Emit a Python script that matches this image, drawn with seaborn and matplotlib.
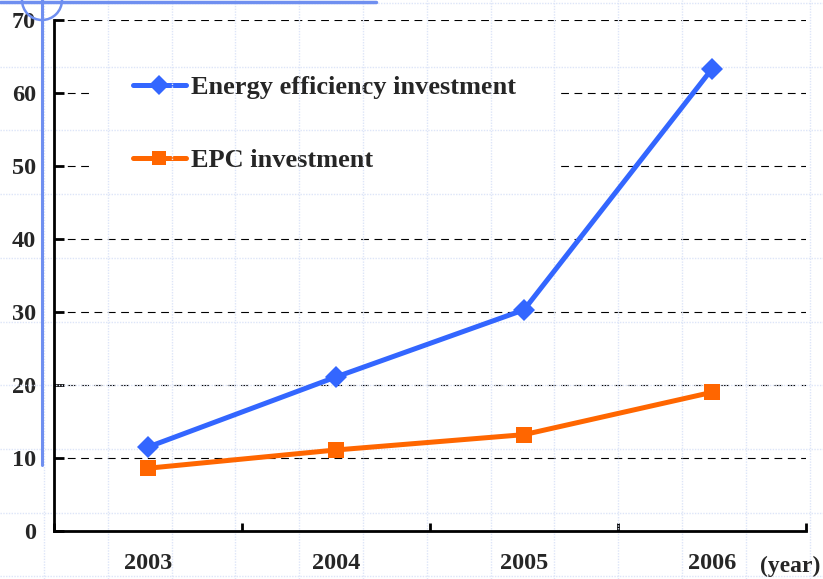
import matplotlib.pyplot as plt
import matplotlib.lines as mlines
import matplotlib.patches as mpatches
import pandas as pd
import seaborn as sns
import numpy as np

years = ['2003', '2004', '2005', '2006']
energy_eff = [11.5, 21.1, 30.3, 63.3]
epc = [8.6, 11.1, 13.2, 19.0]
series_names = ['Energy efficiency investment', 'EPC investment']
y_ticks = [0, 10, 20, 30, 40, 50, 60, 70]

df = pd.concat([
    pd.DataFrame({'year': years, 'value': energy_eff, 'series': series_names[0]}),
    pd.DataFrame({'year': years, 'value': epc, 'series': series_names[1]}),
])

sns.set_style('white')
plt.rcParams['font.family'] = ['Liberation Serif', 'DejaVu Serif']
plt.rcParams['font.weight'] = 'bold'

W, H = 823, 579
fig = plt.figure(figsize=(8.23, 5.79), dpi=100)
ax = fig.add_axes([54 / W, 1 - 531 / H, (806 - 54) / W, (531 - 20) / H])

sns.lineplot(data=df, x='year', y='value', hue='series', style='series',
             palette=['#3366FF', '#FF6600'], markers={series_names[0]: 'D', series_names[1]: 's'},
             dashes=False, linewidth=3.6, markersize=11, markeredgewidth=0, ax=ax, zorder=3)

ax.set_xlim(-0.5, 3.5)
ax.set_ylim(0, 70)
ax.set_yticks(y_ticks)
ax.set_yticklabels([str(v) for v in y_ticks], fontsize=17.5, fontweight='bold')
ax.set_xticks(np.arange(-0.5, 4, 1))
ax.set_xticklabels([])
ax.set_xticks(range(len(years)), minor=True)
ax.set_xticklabels(years, minor=True, fontsize=17.5, fontweight='bold')
ax.tick_params(axis='x', which='major', direction='in', length=6, width=2, color='black', bottom=True)
ax.tick_params(axis='x', which='minor', length=0, pad=16)
ax.tick_params(axis='y', direction='in', length=7, width=2, color='black', left=True, pad=13)
ax.set_xlabel('')
ax.set_ylabel('')

for s in ['top', 'right']:
    ax.spines[s].set_visible(False)
for s in ['left', 'bottom']:
    ax.spines[s].set_color('black')
    ax.spines[s].set_linewidth(2)
ax.set_axisbelow(True)
ax.yaxis.grid(True, color='black', linestyle=(0, (7, 5)), linewidth=0.8)
ax.xaxis.grid(False)

leg = ax.legend(loc='upper left', bbox_to_anchor=(0.035, 0.994), frameon=True, fontsize=19,
                handlelength=2.0, handletextpad=0.2, labelspacing=1.86, borderpad=1.5)
leg.get_frame().set_facecolor('white')
leg.get_frame().set_edgecolor('none')
leg.get_frame().set_alpha(1)
leg.set_zorder(1)
for t in leg.get_texts():
    t.set_fontweight('bold')
for h in leg.legend_handles:
    h.set_linewidth(3.6)
    h.set_markeredgewidth(0)
    h.set_markersize(10)

fig.text(790 / W, 1 - 566 / H, '(year)', ha='center', va='center', fontsize=17, fontweight='bold')

# slide background grid
bg = '#dde5f8'
for x in np.arange(44, W, 63.8):
    ax.add_line(mlines.Line2D([x / W, x / W], [0, 1], transform=fig.transFigure, color=bg,
                              linewidth=1.0, linestyle=(0, (1, 1)), clip_on=False, zorder=1.5))
for y in np.arange(3, H, 63.7):
    ax.add_line(mlines.Line2D([0, 1], [1 - y / H, 1 - y / H], transform=fig.transFigure, color=bg,
                              linewidth=1.0, linestyle=(0, (1, 1)), clip_on=False, zorder=1.5))

# slide decorations
deco = '#6f8ff0'
fig.add_artist(mlines.Line2D([42 / W, 42 / W], [1, 1 - 465 / H], color=deco, linewidth=2.2))
fig.add_artist(mlines.Line2D([0, 376 / W], [1 - 2 / H, 1 - 2 / H], color=deco, linewidth=2.5))
fig.add_artist(mpatches.Ellipse((42 / W, 1), 40 / W, 40 / H, fill=False, edgecolor=deco,
                                linewidth=1.8, transform=fig.transFigure))

fig.savefig('out.png', dpi=100)
